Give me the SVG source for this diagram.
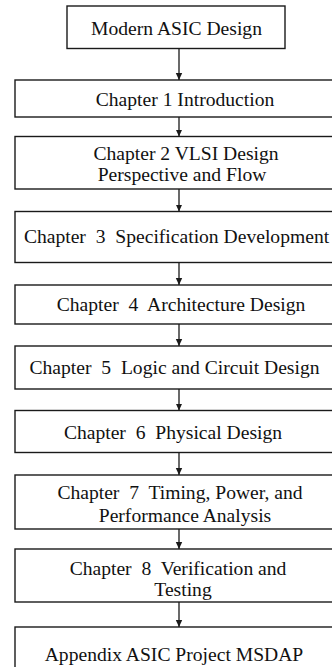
<svg xmlns="http://www.w3.org/2000/svg" width="332" height="667" viewBox="0 0 332 667">
<style>
.box{fill:#fff;stroke:#1a1a1a;stroke-width:1.4}
.t{font-family:"Liberation Serif","Times New Roman",serif;font-size:19.6px;fill:#111;text-anchor:middle;white-space:pre}
.c{stroke:#1a1a1a;stroke-width:1.3;fill:none}
</style>
<defs>
<marker id="ah" markerWidth="8" markerHeight="8" refX="7" refY="4" orient="auto" markerUnits="userSpaceOnUse">
<path d="M0,0.8 L7,4 L0,7.2 Z" fill="#1a1a1a"/>
</marker>
</defs>
<rect width="332" height="667" fill="#fff"/>
<g id="connectors">
<line class="c" x1="179" y1="48.5" x2="179" y2="80" marker-end="url(#ah)"/>
<line class="c" x1="179" y1="117" x2="179" y2="136.5" marker-end="url(#ah)"/>
<line class="c" x1="179" y1="189" x2="179" y2="211.5" marker-end="url(#ah)"/>
<line class="c" x1="179" y1="262.5" x2="179" y2="285" marker-end="url(#ah)"/>
<line class="c" x1="179" y1="324" x2="179" y2="346" marker-end="url(#ah)"/>
<line class="c" x1="179" y1="389" x2="179" y2="410.5" marker-end="url(#ah)"/>
<line class="c" x1="179" y1="452.5" x2="179" y2="475" marker-end="url(#ah)"/>
<line class="c" x1="179" y1="529" x2="179" y2="549" marker-end="url(#ah)"/>
<line class="c" x1="179" y1="602" x2="179" y2="627" marker-end="url(#ah)"/>
</g>
<g id="root">
<rect class="box" x="67" y="6" width="218" height="42.5"/>
<text class="t" x="176.5" y="34.5">Modern ASIC Design</text>
</g>
<g id="ch1">
<rect class="box" x="15" y="80" width="326" height="37"/>
<text class="t" x="185" y="106">Chapter 1 Introduction</text>
</g>
<g id="ch2">
<rect class="box" x="15" y="136.5" width="326" height="52.5"/>
<text class="t" x="186" y="159.5">Chapter 2 VLSI Design</text>
<text class="t" x="182" y="180.5">Perspective and Flow</text>
</g>
<g id="ch3">
<rect class="box" x="15" y="211.5" width="326" height="51"/>
<text class="t" x="176.5" y="243">Chapter  3  Specification Development</text>
</g>
<g id="ch4">
<rect class="box" x="15" y="285" width="326" height="39"/>
<text class="t" x="181" y="310.5">Chapter  4  Architecture Design</text>
</g>
<g id="ch5">
<rect class="box" x="15" y="346" width="326" height="43"/>
<text class="t" x="174.5" y="373.5">Chapter  5  Logic and Circuit Design</text>
</g>
<g id="ch6">
<rect class="box" x="15" y="410.5" width="326" height="42"/>
<text class="t" x="173" y="438.5">Chapter  6  Physical Design</text>
</g>
<g id="ch7">
<rect class="box" x="15" y="475" width="326" height="54"/>
<text class="t" x="180" y="499">Chapter  7  Timing, Power, and</text>
<text class="t" x="185" y="521.5">Performance Analysis</text>
</g>
<g id="ch8">
<rect class="box" x="15" y="549" width="326" height="53"/>
<text class="t" x="178" y="575">Chapter  8  Verification and</text>
<text class="t" x="183" y="595.5">Testing</text>
</g>
<g id="appendix">
<rect class="box" x="15" y="627" width="326" height="80"/>
<text class="t" x="174" y="661">Appendix ASIC Project MSDAP</text>
</g>
</svg>
